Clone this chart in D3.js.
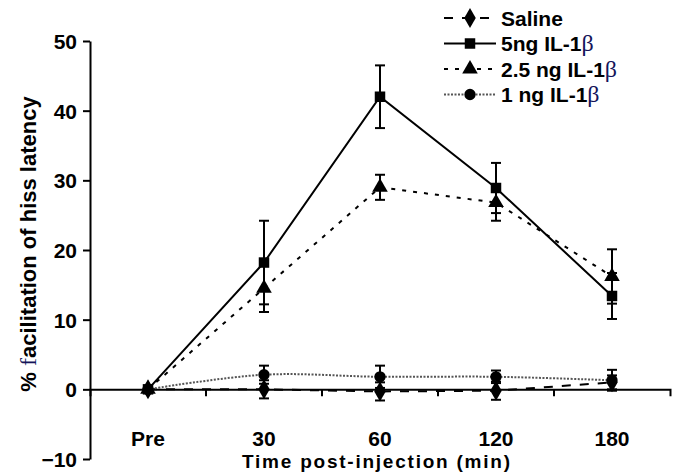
<!DOCTYPE html>
<html>
<head>
<meta charset="utf-8">
<script src="https://cdn.jsdelivr.net/npm/d3@7"></script>
<style>
  body { margin: 0; background: #fff; }
  text { font-family: "Liberation Sans", Arial, sans-serif; font-weight: bold; fill: #000; }
  .greek { font-family: "Liberation Serif", "Times New Roman", serif; font-weight: normal; fill: #14145a; }
</style>
</head>
<body>
<svg id="svg_main"></svg>
<script>
const categories = ['Pre', '30', '60', '120', '180'];
const yTicks = [-10, 0, 10, 20, 30, 40, 50];

const salineMean = [0, 0, -0.3, -0.2, 1.0];
const salineErr  = [0, 1.3, 1.3, 1.3, 1.0];
const il5Mean    = [0, 18.2, 42.0, 28.9, 13.4];
const il5Err     = [0, 6.0, 4.5, 3.6, 3.3];
const il25Mean   = [0, 14.5, 29.0, 26.8, 16.2];
const il25Err    = [0, 3.4, 1.8, 2.6, 3.9];
const il1Mean    = [0, 2.1, 1.8, 1.8, 1.3];
const il1Err     = [0, 1.3, 1.6, 0.9, 1.5];

const width = 678, height = 474;
const fs = '21px';

const series = [
    {name: 'Saline', dose: null, mean: salineMean, err: salineErr, symbol: d3.symbolDiamond, size: 115,
        stroke: '#000', dash: '9,9', sw: 2, curve: d3.curveLinear},
    {name: '5ng IL-1', dose: 'b', mean: il5Mean, err: il5Err, symbol: d3.symbolSquare, size: 110,
        stroke: '#000', dash: null, sw: 2, curve: d3.curveLinear},
    {name: '2.5 ng IL-1', dose: 'b', mean: il25Mean, err: il25Err, symbol: d3.symbolTriangle, size: 105,
        stroke: '#000', dash: '4,7', sw: 2, curve: d3.curveLinear},
    {name: '1 ng IL-1', dose: 'b', mean: il1Mean, err: il1Err, symbol: d3.symbolCircle, size: 100,
        stroke: '#555', dash: '2,1.5', sw: 2, curve: d3.curveCatmullRom}
];

const svg = d3.select('#svg_main')
    .attr('width', width)
    .attr('height', height);

const x = d3.scaleBand().domain(categories).range([90, 670]).paddingInner(0);
const y = d3.scaleLinear().domain([-10, 50]).range([459, 41]);
const cx = d => x(d) + x.bandwidth() / 2;

// y axis
const yAxis = svg.append('g')
    .attr('transform', 'translate(90,0)')
    .call(d3.axisLeft(y).tickValues(yTicks).tickSize(7).tickSizeOuter(0).tickPadding(6));
yAxis.select('.domain').attr('stroke-width', 2);
yAxis.selectAll('.tick line').attr('stroke-width', 2);
yAxis.selectAll('.tick text').style('font-size', fs).attr('dy', '0.36em');

// x axis along zero
const xAxis = svg.append('g')
    .attr('transform', `translate(0,${y(0)})`)
    .call(d3.axisBottom(x).tickSize(0).tickSizeOuter(7).tickFormat(''));
xAxis.select('.domain').attr('stroke-width', 2);
svg.append('g')
    .selectAll('line')
    .data(categories.slice(1))
    .join('line')
    .attr('x1', d => x(d)).attr('x2', d => x(d))
    .attr('y1', y(0)).attr('y2', y(0) + 7)
    .attr('stroke', '#000').attr('stroke-width', 2);
svg.append('g')
    .selectAll('text')
    .data(categories)
    .join('text')
    .attr('x', d => cx(d))
    .attr('y', 446)
    .attr('text-anchor', 'middle')
    .style('font-size', fs)
    .text(d => d);

svg.append('text')
    .attr('x', 376).attr('y', 468)
    .attr('text-anchor', 'middle')
    .style('font-size', '19px')
    .attr('textLength', 268)
    .text('Time post-injection (min)');

const yTitle = svg.append('text')
    .attr('transform', 'translate(36,244) rotate(-90)')
    .attr('text-anchor', 'middle')
    .style('font-size', '22px');
yTitle.append('tspan').text('%  ');
yTitle.append('tspan').attr('class', 'greek').style('font-size', '24px').text('f');
yTitle.append('tspan').text('acilitation of hiss latency');

// series lines, error bars, markers
const plot = svg.append('g');
series.forEach(s => {
    const pts = categories.map((c, i) => ({c, v: s.mean[i], e: s.err[i]}));
    const line = d3.line().x(d => cx(d.c)).y(d => y(d.v)).curve(s.curve);
    plot.append('path')
        .attr('d', line(pts))
        .attr('fill', 'none')
        .attr('stroke', s.stroke)
        .attr('stroke-width', s.sw)
        .attr('stroke-dasharray', s.dash);

    const eb = plot.append('g').selectAll('g')
        .data(pts.filter(d => d.e > 0))
        .join('g');
    eb.append('line')
        .attr('x1', d => cx(d.c)).attr('x2', d => cx(d.c))
        .attr('y1', d => y(d.v + d.e)).attr('y2', d => y(d.v - d.e))
        .attr('stroke', '#000').attr('stroke-width', 2);
    [1, -1].forEach(sg => {
        eb.append('line')
            .attr('x1', d => cx(d.c) - 5).attr('x2', d => cx(d.c) + 5)
            .attr('y1', d => y(d.v + sg * d.e)).attr('y2', d => y(d.v + sg * d.e))
            .attr('stroke', '#000').attr('stroke-width', 2);
    });

    plot.append('g').selectAll('path')
        .data(pts)
        .join('path')
        .attr('transform', d => `translate(${cx(d.c)},${y(d.v)})`)
        .attr('d', d3.symbol(s.symbol, s.size))
        .attr('fill', '#000');
});

// legend
const legend = svg.append('g');
series.forEach((s, i) => {
    const ly = 18 + i * 25.5;
    legend.append('line')
        .attr('x1', 444).attr('x2', 496)
        .attr('y1', ly).attr('y2', ly)
        .attr('stroke', s.stroke)
        .attr('stroke-width', s.sw)
        .attr('stroke-dasharray', s.dash);
    legend.append('path')
        .attr('transform', `translate(470,${ly})`)
        .attr('d', d3.symbol(s.symbol, s.size))
        .attr('fill', '#000');
    const t = legend.append('text')
        .attr('x', 501).attr('y', ly + 7.5)
        .style('font-size', fs);
    t.append('tspan').text(s.name);
    if (s.dose) t.append('tspan').attr('class', 'greek').style('font-size', '24px').text('β');
});
</script>
</body>
</html>
